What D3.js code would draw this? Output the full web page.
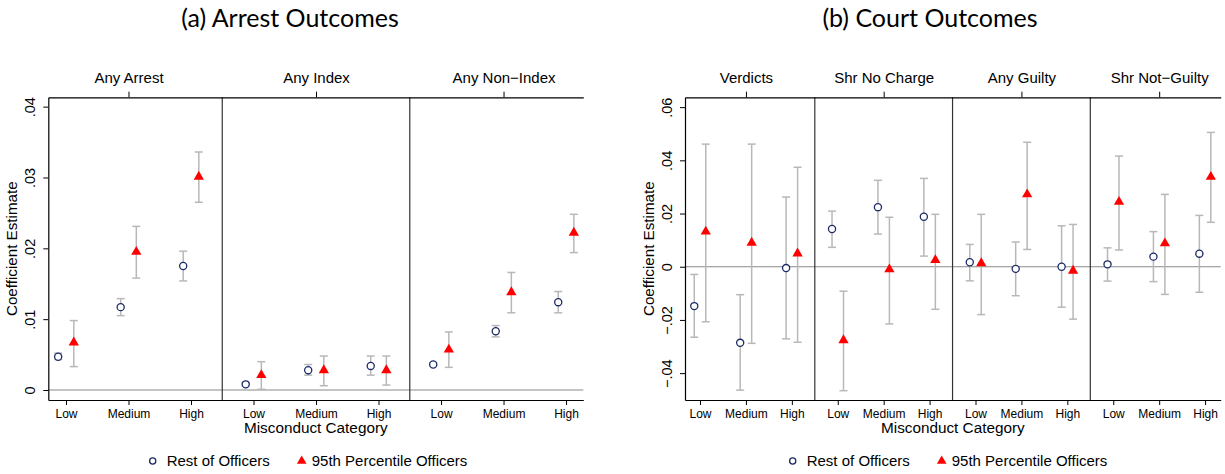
<!DOCTYPE html>
<html>
<head>
<meta charset="utf-8">
<script src="https://cdn.jsdelivr.net/npm/d3@7"></script>
<style>
  body { margin: 0; background: #fff; }
  text { font-family: "Liberation Sans", Arial, sans-serif; fill: #000; }
  .title { font-family: Lato, sans-serif; }
</style>
</head>
<body>
<div id="chart"></div>
<script>
// categories and panels
var categories = ['Low', 'Medium', 'High'];
var arrestOutcomes = ['Any Arrest', 'Any Index', 'Any Non\u2212Index'];
var courtOutcomes = ['Verdicts', 'Shr No Charge', 'Any Guilty', 'Shr Not\u2212Guilty'];

// [estimate, lower, upper] -- panel by panel, Low / Medium / High
var arrestRest = [
  [0.0047, 0.0043, 0.0052], [0.0117, 0.0105, 0.0129], [0.0175, 0.0154, 0.0196],
  [0.0008, 0.0006, 0.0010], [0.0028, 0.0021, 0.0036], [0.0034, 0.0021, 0.0048],
  [0.0036, 0.0034, 0.0038], [0.0083, 0.0075, 0.0091], [0.0124, 0.0109, 0.0139]
];
var arrestTop = [
  [0.0067, 0.0033, 0.0098], [0.0195, 0.0158, 0.0231], [0.0301, 0.0265, 0.0336],
  [0.0021, 0.0001, 0.0040], [0.0028, 0.0006, 0.0048], [0.0028, 0.0007, 0.0048],
  [0.0057, 0.0032, 0.0082], [0.0138, 0.0109, 0.0166], [0.0222, 0.0194, 0.0248]
];
var courtRest = [
  [-0.0148, -0.0265, -0.0029], [-0.0286, -0.0464, -0.0105], [-0.0005, -0.0271, 0.0262],
  [0.0142, 0.0073, 0.0209], [0.0224, 0.0123, 0.0325], [0.0188, 0.0040, 0.0332],
  [0.0017, -0.0053, 0.0084], [-0.0008, -0.0109, 0.0093], [0.0000, -0.0152, 0.0154],
  [0.0009, -0.0054, 0.0071], [0.0038, -0.0056, 0.0132], [0.0049, -0.0096, 0.0193]
];
var courtTop = [
  [0.0132, -0.0207, 0.0461], [0.0090, -0.0288, 0.0461], [0.0050, -0.0284, 0.0374],
  [-0.0276, -0.0466, -0.0092], [-0.0010, -0.0215, 0.0186], [0.0025, -0.0160, 0.0197],
  [0.0013, -0.0180, 0.0197], [0.0272, 0.0065, 0.0468], [-0.0015, -0.0197, 0.0159],
  [0.0244, 0.0063, 0.0416], [0.0088, -0.0104, 0.0272], [0.0338, 0.0167, 0.0505]
];

// y ticks
var arrestTicks = [0, 0.01, 0.02, 0.03, 0.04];
var arrestTickLabels = ['0', '.01', '.02', '.03', '.04'];
var courtTicks = [-0.04, -0.02, 0, 0.02, 0.04, 0.06];
var courtTickLabels = ['\u2212.04', '\u2212.02', '0', '.02', '.04', '.06'];

var seriesNames = ['Rest of Officers', '95th Percentile Officers'];

var W = 1225, H = 474;
var svg = d3.select('#chart').append('svg')
  .attr('width', W).attr('height', H);
svg.append('rect').attr('width', W).attr('height', H).attr('fill', '#fff');

function drawChart(opt) {
  var nPanels = opt.outcomes.length;
  var nPos = nPanels * 3;
  var x = d3.scaleLinear().domain(opt.xDomain).range([opt.left, opt.right]);
  var y = d3.scaleLinear().domain(opt.yDomain).range([400, 97.3]);
  var g = svg.append('g');

  // title
  g.append('text').attr('class', 'title')
    .attr('x', opt.titleX).attr('y', 27)
    .attr('text-anchor', 'middle')
    .attr('font-size', '25px')
    .text(opt.title);

  // zero line
  g.append('line')
    .attr('x1', opt.left).attr('x2', opt.right)
    .attr('y1', y(0)).attr('y2', y(0))
    .attr('stroke', '#8a8a8a').attr('stroke-width', 1.1);

  // panel separators
  for (var p = 1; p < nPanels; p++) {
    g.append('line')
      .attr('x1', x(p * 3 + 0.5)).attr('x2', x(p * 3 + 0.5))
      .attr('y1', 97.3).attr('y2', 400)
      .attr('stroke', '#333').attr('stroke-width', 1.2);
  }

  // y axis
  var yAxis = g.append('g')
    .attr('transform', 'translate(' + opt.left + ',0)')
    .call(d3.axisLeft(y).tickValues(opt.ticks)
      .tickFormat(function(d, i) { return opt.tickLabels[i]; })
      .tickSize(5).tickSizeOuter(0));
  yAxis.selectAll('text')
    .attr('transform', 'rotate(-90)')
    .attr('x', 0).attr('y', -13.3).attr('dy', 0)
    .attr('text-anchor', 'middle')
    .attr('font-size', '14.5px')
    .attr('font-family', '"Liberation Sans", Arial, sans-serif');

  // x axis bottom
  var positions = d3.range(1, nPos + 1);
  var xAxis = g.append('g')
    .attr('transform', 'translate(0,400)')
    .call(d3.axisBottom(x).tickValues(positions)
      .tickFormat(function(d) { return categories[(d - 1) % 3]; })
      .tickSize(5).tickSizeOuter(0).tickPadding(4.2));
  xAxis.selectAll('text')
    .attr('font-size', '12px')
    .attr('font-family', '"Liberation Sans", Arial, sans-serif');

  // top axis with panel names
  var centers = d3.range(nPanels).map(function(p) { return p * 3 + 2; });
  var topAxis = g.append('g')
    .attr('transform', 'translate(0,97.3)')
    .call(d3.axisTop(x).tickValues(centers)
      .tickFormat(function(d) { return opt.outcomes[(d - 2) / 3]; })
      .tickSize(5.6).tickSizeOuter(0).tickPadding(8.4));
  topAxis.selectAll('text')
    .attr('font-size', '15px')
    .attr('font-family', '"Liberation Sans", Arial, sans-serif');

  [yAxis, xAxis, topAxis].forEach(function(a) {
    a.select('.domain').attr('stroke', '#000').attr('stroke-width', 1.2);
    a.selectAll('.tick line').attr('stroke', '#000').attr('stroke-width', 1);
  });

  // axis titles
  g.append('text')
    .attr('transform', 'translate(' + (opt.left - 31) + ',248.7) rotate(-90)')
    .attr('text-anchor', 'middle')
    .attr('font-size', '15.2px')
    .text('Coefficient Estimate');
  g.append('text')
    .attr('x', (opt.left + opt.right) / 2).attr('y', 433)
    .attr('text-anchor', 'middle')
    .attr('font-size', '15.3px')
    .text('Misconduct Category');

  // error bars + markers
  var series = [
    { data: opt.rest, off: -0.125, kind: 'circle' },
    { data: opt.top, off: 0.125, kind: 'tri' }
  ];
  series.forEach(function(s) {
    var bars = g.append('g').selectAll('g')
      .data(s.data).enter().append('g')
      .attr('stroke', '#b8b8b8').attr('stroke-width', 1.5);
    bars.append('line')
      .attr('x1', function(d, i) { return x(i + 1 + s.off); })
      .attr('x2', function(d, i) { return x(i + 1 + s.off); })
      .attr('y1', function(d) { return y(d[1]); })
      .attr('y2', function(d) { return y(d[2]); });
    [1, 2].forEach(function(k) {
      bars.append('line')
        .attr('x1', function(d, i) { return x(i + 1 + s.off) - 4; })
        .attr('x2', function(d, i) { return x(i + 1 + s.off) + 4; })
        .attr('y1', function(d) { return y(d[k]); })
        .attr('y2', function(d) { return y(d[k]); });
    });
  });
  series.forEach(function(s) {
    var m = g.append('g').selectAll('path')
      .data(s.data).enter().append('path')
      .attr('transform', function(d, i) {
        return 'translate(' + x(i + 1 + s.off) + ',' + y(d[0]) + ')';
      });
    if (s.kind === 'circle') {
      m.attr('d', d3.symbol(d3.symbolCircle, 40))
        .attr('fill', '#fff').attr('stroke', '#1c2b66').attr('stroke-width', 1.3);
    } else {
      m.attr('d', d3.symbol(d3.symbolTriangle, 46))
        .attr('fill', '#ff0000');
    }
  });

  // legend
  var lg = g.append('g').attr('transform', 'translate(' + opt.legendX + ',461)');
  lg.append('path').attr('d', d3.symbol(d3.symbolCircle, 30))
    .attr('fill', '#fff').attr('stroke', '#1c2b66').attr('stroke-width', 1.3);
  lg.append('text').attr('x', 14).attr('y', 5.3).attr('font-size', '15px').text(seriesNames[0]);
  lg.append('path').attr('d', d3.symbol(d3.symbolTriangle, 40))
    .attr('transform', 'translate(149,0)')
    .attr('fill', '#ff0000');
  lg.append('text').attr('x', 159).attr('y', 5.3).attr('font-size', '15px').text(seriesNames[1]);
}

drawChart({
  title: '(a) Arrest Outcomes', titleX: 290,
  outcomes: arrestOutcomes, rest: arrestRest, top: arrestTop,
  ticks: arrestTicks, tickLabels: arrestTickLabels,
  left: 48.3, right: 583.3,
  xDomain: [0.717, 9.276], yDomain: [-0.00141, 0.04132],
  legendX: 152.7
});

drawChart({
  title: '(b) Court Outcomes', titleX: 930,
  outcomes: courtOutcomes, rest: courtRest, top: courtTop,
  ticks: courtTicks, tickLabels: courtTickLabels,
  left: 685, right: 1220.7,
  xDomain: [0.673, 12.34], yDomain: [-0.0501, 0.0637],
  legendX: 792.7
});
</script>
</body>
</html>
